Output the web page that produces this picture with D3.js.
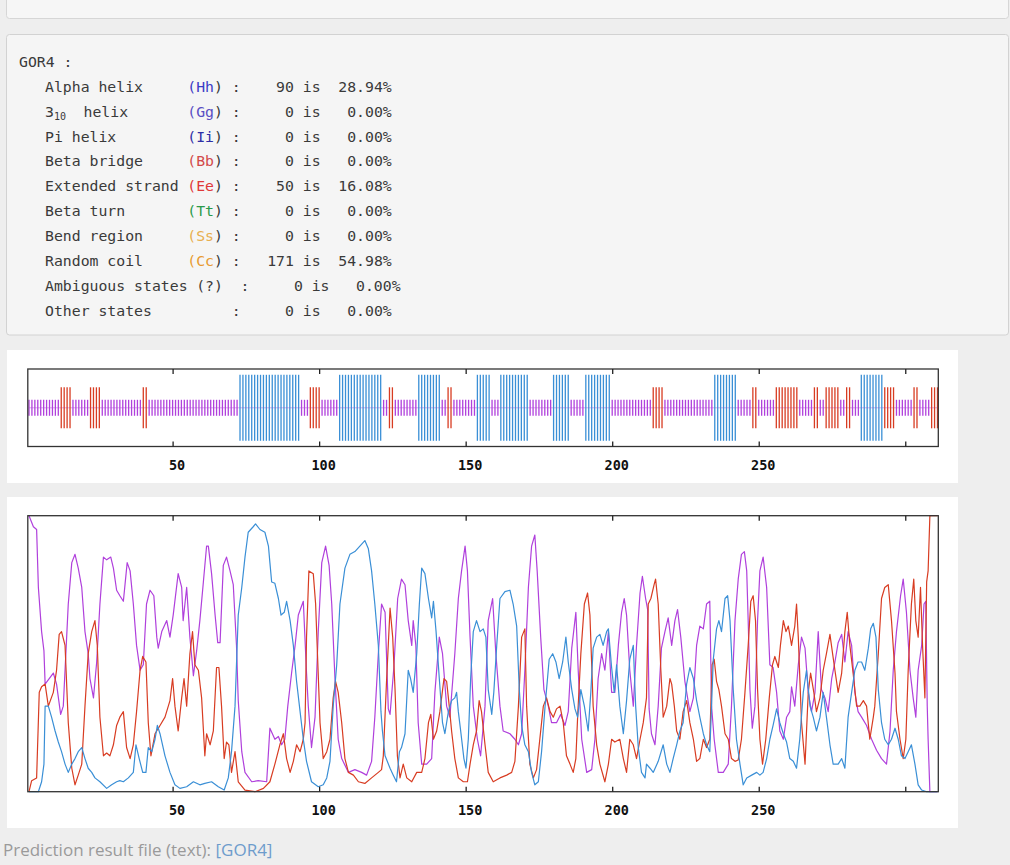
<!DOCTYPE html>
<html><head><meta charset="utf-8">
<script src="https://cdn.jsdelivr.net/npm/d3@7"></script>
<style>body{margin:0;background:#eeeeee;overflow:hidden}svg{display:block}</style>
</head><body>
<svg id="c" width="1010" height="865"></svg>
<script>
// ---------------- data ----------------
const nResidues = 311;
const helixRuns = [[73,93],[107,121],[134,141],[154,158],[162,171],[180,185],[191,199],[235,242],[285,292]];
const strandRuns = [[12,15],[22,25],[40,41],[97,100],[124,125],[144,145],[214,217],[248,249],[256,263],[269,270],[273,277],[280,281],[293,296],[303,304],[309,311]];
const tickValues = [50,100,150,200,250,300];
const tickLabels = ["50","100","150","200","250",""];

const summaryTitle = "GOR4 :";
const summaryLabels = ["Alpha helix","3","Pi helix","Beta bridge","Extended strand","Beta turn","Bend region","Random coil","Ambiguous states","Other states"];
const summaryCodes  = ["Hh","Gg","Ii","Bb","Ee","Tt","Ss","Cc","?",""];
const summaryCodeColors = ["#3b3bc6","#5a4ec4","#2e2ea6","#d24a4a","#e03838","#2a9a4a","#e8ae4e","#e89a30","#333","#333"];
const summaryCounts = [90,0,0,0,50,0,0,171,0,0];
const summaryPercents = ["28.94","0.00","0.00","0.00","16.08","0.00","0.00","54.98","0.00","0.00"];

// probability curves: [residue, probability]
const coilProb = [[1,1.0],[2.5,0.96],[3.6,0.95],[4.2,0.74],[5.3,0.58],[6.1,0.51],[6.5,0.39],[9.3,0.43],[10.4,0.39],[11.8,0.28],[12.7,0.31],[14.4,0.68],[15.6,0.83],[16.7,0.86],[17.8,0.81],[19,0.74],[20.1,0.58],[21.2,0.5],[21.8,0.41],[23,0.34],[24.1,0.47],[25.2,0.68],[26.4,0.85],[27.5,0.84],[28.9,0.85],[29.8,0.81],[30.9,0.73],[32,0.71],[33.2,0.69],[34.5,0.83],[35.5,0.8],[36.6,0.68],[37.7,0.53],[38.9,0.44],[40,0.46],[41.1,0.68],[42.3,0.73],[43.6,0.71],[44.6,0.56],[45.1,0.52],[46.3,0.58],[48,0.62],[49.1,0.56],[50.2,0.64],[51.9,0.79],[53.1,0.74],[53.6,0.62],[54.8,0.74],[55.9,0.56],[57.1,0.42],[58.2,0.51],[59.3,0.62],[60.5,0.76],[61.6,0.89],[62.2,0.89],[63.3,0.79],[64.5,0.64],[65.4,0.54],[66.2,0.54],[67.3,0.82],[68.4,0.85],[69.6,0.8],[70.7,0.75],[71.8,0.53],[72.4,0.33],[73.6,0.145],[74.7,0.07],[77,0.036],[79.2,0.04],[82.1,0.036],[83.2,0.23],[84.9,0.19],[86.1,0.2],[87.2,0.17],[88.3,0.19],[89.3,0.31],[90.6,0.43],[91.8,0.53],[92.9,0.64],[94.6,0.69],[95.7,0.43],[96.3,0.31],[97.4,0.16],[98.6,0.27],[99.7,0.58],[100.9,0.83],[102.2,0.89],[103.4,0.82],[104.3,0.68],[105.4,0.41],[106.5,0.19],[107.7,0.12],[110,0.07],[112.2,0.08],[114.5,0.07],[116.2,0.06],[117.9,0.11],[119,0.27],[120.2,0.5],[121.3,0.68],[122.5,0.65],[123.6,0.3],[124.2,0.28],[125.5,0.45],[126.8,0.7],[128.1,0.77],[129.3,0.75],[130.4,0.62],[131.6,0.53],[132.1,0.62],[133,0.53],[133.8,0.25],[135,0.1],[136.7,0.1],[138.4,0.12],[139.5,0.36],[141,0.56],[142.1,0.5],[143.5,0.31],[144.6,0.27],[146.3,0.5],[147.5,0.7],[148.6,0.8],[149.8,0.89],[150.6,0.8],[151.5,0.56],[152.6,0.31],[154,0.19],[155.1,0.13],[156.6,0.31],[157.7,0.62],[159.2,0.7],[160.3,0.5],[161.7,0.31],[162.8,0.22],[165.1,0.21],[166.8,0.19],[168,0.17],[169.1,0.21],[170.2,0.44],[171.4,0.74],[172.5,0.89],[173.6,0.93],[174.4,0.8],[175.6,0.56],[176.7,0.37],[178.2,0.31],[179.3,0.25],[181,0.25],[182.4,0.28],[183.9,0.24],[185,0.29],[186.2,0.52],[187.6,0.65],[188.4,0.44],[189.6,0.19],[191.3,0.07],[193,0.08],[194.1,0.19],[195.2,0.41],[196.4,0.5],[197.5,0.44],[198.7,0.58],[199.8,0.36],[200.9,0.36],[202.1,0.53],[203.2,0.65],[204.1,0.7],[204.9,0.64],[206,0.44],[207.2,0.31],[208.3,0.53],[209.5,0.72],[210.3,0.78],[211.4,0.7],[212.1,0.66],[212.6,0.3],[213.4,0.21],[214.6,0.17],[215.7,0.31],[216.8,0.52],[218,0.58],[219.1,0.63],[220.3,0.53],[221.4,0.62],[222.3,0.66],[223.4,0.56],[224.8,0.4],[226.5,0.29],[227.7,0.34],[228.8,0.53],[229.9,0.6],[231.1,0.59],[232.2,0.68],[233.3,0.69],[233.9,0.31],[234.8,0.19],[236.2,0.07],[237.9,0.07],[239.6,0.1],[240.7,0.31],[241.9,0.62],[243,0.77],[244.1,0.86],[245.1,0.87],[245.9,0.8],[246.4,0.62],[247,0.37],[247.8,0.23],[248.7,0.31],[249.6,0.62],[250.4,0.8],[251.5,0.85],[252.7,0.74],[253.8,0.46],[254.9,0.45],[256.1,0.36],[257.2,0.22],[258.4,0.19],[259.5,0.27],[260.6,0.29],[261.2,0.38],[262.3,0.31],[263.5,0.46],[264.6,0.56],[265.8,0.52],[266.9,0.36],[268,0.29],[269.2,0.36],[270.3,0.58],[271.4,0.37],[272.6,0.34],[273.7,0.29],[274.9,0.41],[276,0.47],[277.1,0.54],[278.3,0.57],[279.4,0.47],[280.5,0.58],[281.7,0.53],[282.8,0.36],[283.9,0.29],[285.1,0.27],[286.8,0.24],[288.5,0.19],[290.2,0.15],[291.9,0.12],[293.6,0.1],[294.8,0.22],[295.9,0.44],[297,0.58],[298.4,0.71],[299.3,0.77],[300.4,0.65],[301.6,0.44],[302.7,0.34],[303.6,0.27],[304.4,0.44],[305.6,0.53],[306.4,0.68],[307,0.69],[307.5,0.31],[307.8,0.19],[308.4,0],[311,0]];
const strandProb = [[1,0],[1.9,0.04],[3.6,0.05],[4.5,0.36],[5.3,0.38],[6.5,0.39],[7.6,0.31],[9.3,0.36],[10.4,0.44],[11.3,0.57],[12.1,0.58],[13.3,0.53],[14.4,0.25],[15.6,0.085],[16.7,0.025],[17.8,0.06],[19,0.1],[20.1,0.31],[21.2,0.5],[22.4,0.58],[23.5,0.62],[24.3,0.53],[25.2,0.27],[26.4,0.13],[27.5,0.14],[28.6,0.13],[29.8,0.17],[30.9,0.24],[32,0.27],[33.2,0.29],[34.3,0.16],[35.5,0.12],[36.6,0.17],[37.7,0.29],[38.9,0.44],[39.8,0.49],[40.9,0.47],[41.7,0.25],[42.6,0.13],[44,0.21],[45.7,0.24],[47.4,0.27],[49.1,0.33],[50,0.41],[50.8,0.31],[51.9,0.22],[53.1,0.34],[53.9,0.41],[54.8,0.31],[55.9,0.5],[56.8,0.58],[57.6,0.46],[58.8,0.44],[59.9,0.34],[61,0.13],[61.6,0.21],[62.8,0.17],[63.9,0.22],[65,0.45],[65.8,0.45],[66.7,0.31],[67.6,0.12],[68.4,0.18],[69.2,0.17],[70.1,0.07],[71.3,0.145],[72.4,0.036],[74.7,0.006],[78.1,0],[81,0.012],[83.2,0.036],[84.9,0.1],[86.6,0.17],[87.8,0.21],[88.9,0.12],[90.1,0.07],[91.2,0.11],[92.3,0.17],[93.5,0.145],[94.6,0.19],[95.2,0.25],[95.7,0.56],[96.5,0.8],[98,0.79],[98.8,0.68],[99.5,0.48],[100.3,0.25],[101.4,0.12],[102.6,0.145],[103.7,0.19],[104.8,0.34],[105.6,0.4],[106.5,0.36],[107.7,0.25],[108.8,0.12],[110,0.07],[111.7,0.06],[113.4,0.036],[115.6,0.03],[117.9,0.05],[120.2,0.07],[121.3,0.08],[121.9,0.13],[123,0.4],[124.2,0.665],[125.1,0.56],[125.9,0.37],[126.7,0.13],[127.6,0.05],[128.7,0.1],[129.9,0.05],[131.6,0.036],[133.3,0.07],[135,0.07],[136.1,0.12],[137.3,0.25],[138.1,0.28],[139,0.19],[140.1,0.22],[141.2,0.29],[142.6,0.41],[143.5,0.4],[144.4,0.31],[145.2,0.22],[146.3,0.12],[147.5,0.05],[149.2,0.036],[150.6,0.036],[151.5,0.1],[152.6,0.17],[153.7,0.22],[154.6,0.33],[155.4,0.29],[156.6,0.17],[157.7,0.07],[159.4,0.036],[161.7,0.05],[164,0.06],[165.7,0.07],[166.8,0.11],[168,0.31],[169.1,0.56],[170.2,0.59],[170.8,0.31],[171.9,0.1],[173.1,0.05],[174.2,0.08],[175.3,0.19],[176.5,0.31],[177.6,0.34],[178.8,0.29],[179.9,0.27],[181,0.3],[182.2,0.31],[183.3,0.25],[184.4,0.13],[185.6,0.1],[186.7,0.07],[187.6,0.12],[188.2,0.27],[189.3,0.5],[190.5,0.68],[191.6,0.72],[192.4,0.64],[193.5,0.31],[194.7,0.17],[195.8,0.1],[197.5,0.036],[198.7,0.1],[199.8,0.19],[200.9,0.18],[202.6,0.19],[203.8,0.12],[204.9,0.07],[206,0.19],[207.2,0.17],[208.3,0.12],[209.5,0.19],[210.6,0.25],[211.7,0.34],[212.3,0.68],[213.2,0.7],[214.3,0.75],[214.8,0.77],[215.7,0.68],[216.6,0.44],[217.4,0.27],[218.6,0.31],[219.7,0.41],[220.3,0.39],[221.2,0.31],[222,0.22],[223.1,0.19],[224.2,0.29],[225.4,0.33],[226.5,0.25],[227.7,0.19],[228.8,0.11],[229.9,0.12],[231.1,0.19],[232.2,0.16],[233.3,0.19],[234.1,0.46],[234.8,0.48],[235.6,0.4],[236.4,0.37],[237.3,0.31],[238.5,0.21],[239.6,0.19],[240.7,0.12],[241.9,0.11],[243,0.115],[244.1,0.19],[245.3,0.36],[246.4,0.53],[247.3,0.69],[248.1,0.71],[248.9,0.62],[249.6,0.37],[250.4,0.19],[251.3,0.1],[252.4,0.19],[253.6,0.34],[254.7,0.46],[255.5,0.49],[256.7,0.45],[257.4,0.53],[258.4,0.62],[259.3,0.58],[260.1,0.6],[261.2,0.53],[262.3,0.6],[262.9,0.68],[263.5,0.56],[264.6,0.25],[265.8,0.1],[266.9,0.36],[267.7,0.43],[268.8,0.36],[269.7,0.29],[270.9,0.34],[272,0.44],[273.1,0.5],[274.3,0.57],[275.2,0.5],[276,0.44],[277.1,0.36],[278.3,0.43],[279.4,0.58],[280.2,0.65],[281.1,0.53],[282.2,0.43],[283.4,0.31],[284.5,0.31],[285.7,0.33],[286.8,0.31],[287.9,0.19],[289.1,0.27],[289.6,0.31],[290.8,0.5],[291.9,0.7],[293,0.74],[294.2,0.75],[295.3,0.62],[296.5,0.43],[297,0.29],[298.2,0.19],[299.3,0.12],[300.2,0.19],[301,0.44],[302.1,0.68],[302.9,0.77],[303.6,0.62],[304.4,0.56],[305.2,0.74],[305.9,0.53],[306.7,0.34],[307.3,0.76],[307.8,0.8],[308.4,1.0],[311,1.0]];
const helixProb = [[1,0],[4.2,0],[5.3,0.036],[6.1,0.1],[6.5,0.31],[7.6,0.31],[8.7,0.27],[9.9,0.22],[11,0.18],[12.1,0.145],[13.3,0.1],[14.4,0.07],[15.6,0.1],[16.7,0.12],[17.8,0.145],[19,0.16],[20.1,0.12],[21.2,0.085],[22.4,0.07],[23.5,0.05],[25.2,0.036],[27.5,0.012],[29.2,0.025],[30.9,0.036],[32,0.04],[33.2,0.036],[34.9,0.05],[36.6,0.07],[37.5,0.17],[38.6,0.12],[39.8,0.07],[40.9,0.07],[41.7,0.16],[42.9,0.145],[44,0.19],[44.8,0.24],[45.7,0.21],[47.4,0.13],[49.1,0.07],[50.8,0.025],[52.5,0.012],[54.8,0.018],[57.1,0.036],[59.3,0.025],[61,0.03],[63.3,0.036],[65.6,0.018],[67.6,0.006],[69,0.05],[70.1,0.145],[71.3,0.31],[72.4,0.64],[73.6,0.74],[74.7,0.85],[75.8,0.94],[77.5,0.96],[78.3,0.97],[79.8,0.95],[81.5,0.94],[82.7,0.89],[83.2,0.83],[83.8,0.76],[84.9,0.755],[86.1,0.7],[87,0.64],[88.1,0.65],[88.9,0.69],[90.1,0.62],[91.2,0.53],[92.3,0.4],[93.5,0.29],[94.6,0.19],[95.7,0.11],[97.4,0.036],[99.7,0.018],[101.4,0.025],[102.6,0.05],[103.7,0.11],[104.8,0.31],[106,0.46],[107.1,0.68],[108.8,0.81],[110.5,0.86],[112.2,0.87],[113.9,0.89],[115.6,0.91],[116.8,0.88],[117.9,0.8],[119,0.68],[120.2,0.53],[121.1,0.29],[121.6,0.22],[122.5,0.13],[124.2,0.085],[125.3,0.06],[126.4,0.036],[127.4,0.145],[128.1,0.16],[129.3,0.21],[130.4,0.44],[131.2,0.41],[132.1,0.36],[133.3,0.5],[134.2,0.68],[135,0.81],[136.1,0.79],[137.3,0.7],[138.4,0.63],[139,0.69],[139.9,0.58],[141,0.41],[142.1,0.25],[142.9,0.21],[144.1,0.29],[145.2,0.33],[146.3,0.34],[146.9,0.36],[147.5,0.29],[148.3,0.22],[149.4,0.12],[150.1,0.085],[150.9,0.19],[151.7,0.41],[152.6,0.58],[153.7,0.62],[154.9,0.58],[156,0.59],[156.9,0.56],[157.7,0.37],[158.9,0.28],[159.6,0.36],[160.6,0.53],[161.7,0.7],[163.4,0.725],[165.1,0.73],[166.2,0.68],[167.4,0.6],[168.3,0.37],[169.1,0.24],[170.2,0.17],[171.4,0.145],[172.5,0.07],[173.6,0.025],[174.8,0.036],[175.9,0.145],[177.1,0.31],[178.5,0.48],[179.7,0.5],[180.8,0.47],[181.9,0.41],[183.1,0.47],[184.2,0.56],[185,0.47],[186.2,0.37],[187.3,0.3],[188.2,0.27],[189.3,0.37],[190.5,0.31],[191.8,0.22],[192.7,0.36],[193.5,0.52],[194.7,0.56],[195.8,0.57],[196.9,0.53],[198.1,0.58],[198.7,0.59],[199.8,0.45],[200.7,0.36],[201.5,0.46],[202.6,0.31],[203.8,0.21],[204.9,0.33],[206,0.48],[207.2,0.53],[208,0.31],[208.9,0.16],[210,0.07],[211.2,0.05],[211.7,0.1],[212.9,0.085],[214,0.07],[215.7,0.11],[217.4,0.17],[218.6,0.1],[219.7,0.07],[220.8,0.12],[222,0.17],[223.1,0.22],[224.2,0.25],[225.4,0.39],[226.5,0.45],[227.7,0.41],[228.8,0.33],[229.9,0.27],[231.1,0.21],[232.2,0.17],[233.3,0.145],[234.5,0.48],[235.6,0.59],[236.4,0.62],[237.3,0.58],[238.5,0.7],[239.4,0.71],[240.2,0.62],[241.3,0.37],[242.4,0.19],[243.6,0.1],[244.7,0.025],[245.9,0.05],[247.6,0.06],[249.3,0.07],[250.4,0.06],[251.5,0.07],[252.7,0.12],[253.8,0.19],[254.9,0.24],[256.1,0.3],[257.2,0.25],[258.4,0.21],[259.5,0.18],[260.6,0.12],[261.8,0.11],[262.9,0.085],[264,0.19],[265.2,0.36],[266.3,0.44],[267.5,0.31],[268.6,0.27],[269.7,0.22],[270.9,0.27],[272,0.36],[273.1,0.27],[274.3,0.17],[275.4,0.1],[277.1,0.1],[278.3,0.12],[279.4,0.085],[280.5,0.27],[281.7,0.36],[282.8,0.44],[283.9,0.47],[285.1,0.47],[286.2,0.44],[287.4,0.52],[288.2,0.59],[289.1,0.61],[290,0.56],[290.8,0.37],[291.9,0.25],[293,0.19],[294.2,0.17],[295.3,0.19],[296.5,0.23],[297.6,0.19],[298.7,0.13],[299.9,0.12],[301,0.145],[302.1,0.17],[303.3,0.1],[304.4,0.025],[305.6,0.006],[307.3,0],[311,0]];

const colHelix = "#3a8fd6", colStrand = "#d83c22", colCoil = "#b040dc";

// ---------------- drawing ----------------
const svg = d3.select("#c");
const mono = "'DejaVu Sans Mono', 'Liberation Mono', monospace";

// page panels
svg.append("rect").attr("x",0).attr("y",0).attr("width",1010).attr("height",865).attr("fill","#eeeeee");
svg.append("rect").attr("x",6.5).attr("y",-10).attr("width",1002).attr("height",28.5).attr("rx",3)
  .attr("fill","#f6f6f6").attr("stroke","#d6d6d6");
svg.append("rect").attr("x",6.5).attr("y",34.5).attr("width",1002).attr("height",300.5).attr("rx",3)
  .attr("fill","#f5f5f5").attr("stroke","#d2d2d2");
svg.append("rect").attr("x",7).attr("y",350).attr("width",951).attr("height",133).attr("fill","#ffffff");
svg.append("rect").attr("x",7).attr("y",497).attr("width",951).attr("height",331).attr("fill","#ffffff");

// summary text
const cw = 8.89, x0 = 45, baseY = 91.7, rowH = 24.92;
const txt = svg.append("g").attr("font-family",mono).attr("font-size","14.8px").attr("fill","#3a3a3a");
txt.append("text").attr("x",19).attr("y",66.7).text(summaryTitle);
const colX = c => x0 + c*cw;
summaryLabels.forEach((lab,i) => {
  const y = baseY + i*rowH;
  const shift = (i === 8) ? 1 : 0;
  if (i === 1) {
    const t = txt.append("text").attr("x",colX(0)).attr("y",y);
    t.append("tspan").text("3");
    t.append("tspan").attr("font-size","10px").attr("dy",3).text("10");
    txt.append("text").attr("x",83.5).attr("y",y).text("helix");
  } else {
    txt.append("text").attr("x",colX(0)).attr("y",y).text(lab);
  }
  const code = summaryCodes[i];
  if (code === "?") {
    txt.append("text").attr("x",colX(17)).attr("y",y).text("(?)");
  } else if (code) {
    txt.append("text").attr("x",colX(16)).attr("y",y).attr("fill",summaryCodeColors[i]).text("(" + code);
    txt.append("text").attr("x",colX(19)).attr("y",y).text(")");
  }
  txt.append("text").attr("x",colX(21+shift)).attr("y",y).text(":");
  txt.append("text").attr("x",colX(28+shift)).attr("y",y).attr("text-anchor","end").text(String(summaryCounts[i]));
  txt.append("text").attr("x",colX(29+shift)).attr("y",y).text("is");
  txt.append("text").attr("x",colX(39+shift)).attr("y",y).attr("text-anchor","end").text(summaryPercents[i] + "%");
});

// shared x scale
const x = d3.scaleLinear().domain([1,nResidues]).range([29,937.5]);
const frameL = 27.8, frameR = 938.3;

function drawFrame(top, bottom) {
  const g = svg.append("g");
  g.append("rect").attr("x",frameL).attr("y",top).attr("width",frameR-frameL).attr("height",bottom-top)
    .attr("fill","none").attr("stroke","#333").attr("stroke-width",1.3);
  const axB = d3.axisBottom(x).tickValues(tickValues).tickSize(-5).tickFormat((d,i)=>tickLabels[i]).tickPadding(12);
  const gb = g.append("g").attr("transform",`translate(0,${bottom})`).call(axB);
  gb.select(".domain").remove();
  gb.selectAll("line").attr("stroke","#222").attr("stroke-width",1.3);
  gb.selectAll("text").attr("font-family",mono).attr("font-weight","bold").attr("font-size","13.5px")
    .attr("fill","#111").attr("dx",4).attr("y",14).attr("dy","0.71em");
  const axT = d3.axisTop(x).tickValues(tickValues).tickSize(-5).tickFormat("");
  const gt = g.append("g").attr("transform",`translate(0,${top})`).call(axT);
  gt.select(".domain").remove();
  gt.selectAll("line").attr("stroke","#222").attr("stroke-width",1.3);
}

// ---- track ----
const trackTop = 369, trackBot = 446.5, trackMid = 407.8;
const states = d3.range(1, nResidues+1).map(i => {
  if (helixRuns.some(r => i >= r[0] && i <= r[1])) return "H";
  if (strandRuns.some(r => i >= r[0] && i <= r[1])) return "E";
  return "C";
});
const halfH = {H:33, E:20.5, C:8};
const stCol = {H:colHelix, E:colStrand, C:colCoil};
svg.append("line").attr("x1",x(1)).attr("x2",x(nResidues)).attr("y1",trackMid).attr("y2",trackMid)
  .attr("stroke","#d9a6ea").attr("stroke-width",1);
svg.append("g").selectAll("line").data(states).join("line")
  .attr("x1",(d,i)=>x(i+1)).attr("x2",(d,i)=>x(i+1))
  .attr("y1",d=>trackMid-halfH[d]).attr("y2",d=>trackMid+halfH[d])
  .attr("stroke",d=>stCol[d]).attr("stroke-width",1.3);
drawFrame(trackTop, trackBot);

// ---- probability chart ----
const pTop = 515.7, pBot = 791.7;
const y = d3.scaleLinear().domain([0,1]).range([pBot,pTop]);
const line = d3.line().x(d=>x(d[0])).y(d=>y(d[1]));
const series = [[coilProb,colCoil],[strandProb,colStrand],[helixProb,colHelix]];
svg.append("g").selectAll("path").data(series).join("path")
  .attr("d",d=>line(d[0])).attr("fill","none").attr("stroke",d=>d[1]).attr("stroke-width",1.2)
  .attr("stroke-linejoin","round");
drawFrame(pTop, pBot);

// footer
const f = svg.append("text").attr("x",3).attr("y",856).attr("font-family","'Open Sans', sans-serif")
  .attr("font-size","17px").attr("fill","#9a9a9a");
f.append("tspan").text("Prediction result file (text): ");
f.append("tspan").attr("fill","#6d9ccc").text("[GOR4]");
</script>
</body></html>
